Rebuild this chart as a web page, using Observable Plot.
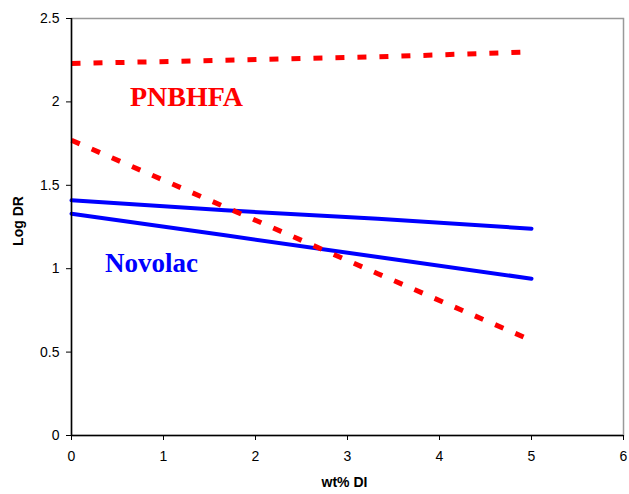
<!DOCTYPE html>
<html>
<head>
<meta charset="utf-8">
<script src="https://cdn.jsdelivr.net/npm/d3@7"></script>
<script src="https://cdn.jsdelivr.net/npm/@observablehq/plot@0.6"></script>
<style>
  html, body { margin: 0; padding: 0; background: #fff; }
  svg { display: block; }
</style>
</head>
<body>
<div id="chart"></div>
<script>
const wtDI = [0, 1.67, 3.33, 5];
const pnbhfaUpper = [2.23, 2.25, 2.27, 2.30];
const pnbhfaLower = [1.77, 1.37, 0.97, 0.57];
const novolacUpper = [1.41, 1.35, 1.30, 1.24];
const novolacLower = [1.33, 1.20, 1.07, 0.94];
const xTicks = [0, 1, 2, 3, 4, 5, 6];
const yTicks = [0, 0.5, 1, 1.5, 2, 2.5];
const seriesLabels = ["PNBHFA", "Novolac"];

function rows(name, ys) { return wtDI.map((x, i) => ({series: name, x, y: ys[i]})); }
const redData = [...rows("PU", pnbhfaUpper), ...rows("PL", pnbhfaLower)];
const blueData = [...rows("NU", novolacUpper), ...rows("NL", novolacLower)];

const chart = Plot.plot({
  width: 629,
  height: 494,
  marginLeft: 71,
  marginRight: 6,
  marginTop: 18,
  marginBottom: 59,
  style: {fontFamily: "Liberation Sans, Arial, sans-serif", fontSize: "14px", color: "#000", background: "#fff"},
  x: {domain: [0, 6]},
  y: {domain: [0, 2.5]},
  marks: [
    Plot.frame({stroke: "#999", strokeWidth: 1.5}),
    Plot.line(blueData, {x: "x", y: "y", z: "series", stroke: "#0000FF", strokeWidth: 4}),
    Plot.line(redData, {x: "x", y: "y", z: "series", stroke: "#FF0000", strokeWidth: 5, strokeDasharray: "9,13", strokeLinecap: "butt"}),
    Plot.ruleX([0], {stroke: "#000", strokeWidth: 1.5}),
    Plot.ruleY([0], {stroke: "#000", strokeWidth: 1.5}),
    Plot.axisX({ticks: xTicks, tickSize: 5, tickPadding: 11, tickFormat: d => String(d), label: null, fontSize: 14}),
    Plot.axisY({ticks: yTicks, tickSize: 5, tickPadding: 7, tickFormat: d => String(d), label: null, fontSize: 14}),
    Plot.text([seriesLabels[0]], {x: 1.25, y: 2.03, text: d => d, fill: "#FF0000", fontSize: 28, fontWeight: "bold", fontFamily: "Liberation Serif, Times New Roman, serif"}),
    Plot.text([seriesLabels[1]], {x: 0.87, y: 1.03, text: d => d, fill: "#0000FF", fontSize: 27, fontWeight: "bold", fontFamily: "Liberation Serif, Times New Roman, serif"}),
    Plot.text(["Log DR"], {frameAnchor: "left", dx: -53, dy: -6, rotate: -90, textAnchor: "middle", text: d => d, fontWeight: "bold", fontSize: 14, fill: "#000"}),
    Plot.text(["wt% DI"], {frameAnchor: "bottom", dx: -3, dy: 51, text: d => d, fontWeight: "bold", fontSize: 14, fill: "#000", letterSpacing: "1px"})
  ]
});
document.getElementById("chart").appendChild(chart);
</script>
</body>
</html>
